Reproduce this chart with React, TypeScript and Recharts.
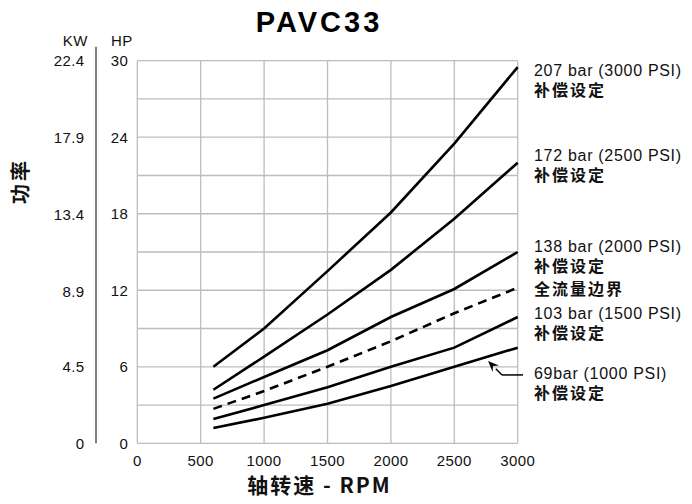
import React from 'react';
import { LineChart, Line, XAxis, YAxis, CartesianGrid, ReferenceLine } from 'recharts';

// shaft speed (RPM) and input power (HP) for each compensator setting
const rpm = [600, 1000, 1500, 2000, 2500, 3000];
const hp207 = [6.0, 9.0, 13.5, 18.1, 23.5, 29.5];
const hp172 = [4.2, 6.8, 10.1, 13.6, 17.6, 22.0];
const hp138 = [3.5, 5.2, 7.3, 9.9, 12.1, 15.0];
const hpFull = [2.7, 4.1, 6.0, 8.0, 10.2, 12.2];
const hp103 = [1.9, 3.0, 4.4, 6.0, 7.5, 9.9];
const hp69 = [1.2, 2.0, 3.1, 4.5, 6.0, 7.5];

const rpmTicks = [0, 500, 1000, 1500, 2000, 2500, 3000];
const hpTicks = [0, 3, 6, 9, 12, 15, 18, 21, 24, 27, 30];
const kwTicks = [0, 4.5, 8.9, 13.4, 17.9, 22.4];

// pointer arrow to the 69 bar curve, in data units
const arrowDiag = [{ x: 2876, y: 5.36 }, { x: 2766, y: 6.45 }];
const arrowFlat = [{ x: 3042, y: 5.36 }, { x: 2876, y: 5.36 }];

const chartData = rpm.map((r, i) => ({
  rpm: r,
  p207: hp207[i],
  p172: hp172[i],
  p138: hp138[i],
  full: hpFull[i],
  p103: hp103[i],
  p69: hp69[i],
}));

const LATIN = '"Liberation Sans", Arial, Helvetica, sans-serif';
const CJK = '"Noto Sans CJK SC", "Liberation Sans", sans-serif';

const ArrowShape = (props: any) => {
  const { x1, y1, x2, y2 } = props;
  const dx = x2 - x1;
  const dy = y2 - y1;
  const len = Math.sqrt(dx * dx + dy * dy) || 1;
  const ux = dx / len;
  const uy = dy / len;
  const bx = x2 - ux * 11;
  const by = y2 - uy * 11;
  const px = -uy * 4.5;
  const py = ux * 4.5;
  return (
    <g>
      <line x1={x1} y1={y1} x2={bx} y2={by} stroke="#000" strokeWidth={1.5} />
      <polygon
        points={`${x2},${y2} ${bx + px},${by + py} ${x2 - ux * 7},${y2 - uy * 7} ${bx - px},${by - py}`}
        fill="#000"
      />
    </g>
  );
};

const FlatShape = (props: any) => {
  const { x1, y1, x2, y2 } = props;
  return <line x1={x1} y1={y1} x2={x2} y2={y2} stroke="#000" strokeWidth={1.5} />;
};

const rightLabel = (y: number, main: string, sub?: string) => (
  <g>
    <text x={526} y={y} dominantBaseline="central" fontFamily={LATIN} fontSize={16} letterSpacing={0.7} fill="#111">
      {main}
    </text>
    {sub && (
      <text x={526} y={y + 19} dominantBaseline="central" fontFamily={CJK} fontSize={16} fontWeight="bold" letterSpacing={2} fill="#111">
        {sub}
      </text>
    )}
  </g>
);

const App: React.FC = () => {
  const tickStyle = { fontSize: 15, fill: '#111', fontFamily: LATIN, letterSpacing: 0.4 };
  return (
    <div style={{ position: 'relative', width: 676, height: 496, marginBottom: -8 }}>
      <LineChart
        width={676}
        height={496}
        data={chartData}
        margin={{ top: 52.7, right: 166.3, left: 0, bottom: 30.7 }}
      >
        <CartesianGrid yAxisId="hp" stroke="#bdbdbd" strokeWidth={1.3} />
        <XAxis
          dataKey="rpm"
          type="number"
          domain={[0, 3000]}
          ticks={rpmTicks}
          axisLine={false}
          tickLine={false}
          tickSize={0}
          tickMargin={12}
          height={30}
          tick={tickStyle}
          interval={0}
        />
        <YAxis
          yAxisId="hp"
          type="number"
          domain={[0, 30]}
          ticks={hpTicks}
          width={41.3}
          axisLine={false}
          tickLine={false}
          tickSize={0}
          tickMargin={9}
          interval={0}
          tick={tickStyle}
          tickFormatter={(v: number) => (v % 6 === 0 ? String(v) : '')}
        />
        <YAxis
          yAxisId="kw"
          type="number"
          domain={[0, 22.4]}
          allowDataOverflow
          ticks={kwTicks}
          width={88}
          axisLine={false}
          tickLine={false}
          tickSize={0}
          tickMargin={11.5}
          interval={0}
          tick={tickStyle}
        />
        <Line yAxisId="hp" type="linear" dataKey="p207" stroke="#000" strokeWidth={2.6} dot={false} isAnimationActive={false} />
        <Line yAxisId="hp" type="linear" dataKey="p172" stroke="#000" strokeWidth={2.6} dot={false} isAnimationActive={false} />
        <Line yAxisId="hp" type="linear" dataKey="p138" stroke="#000" strokeWidth={2.6} dot={false} isAnimationActive={false} />
        <Line yAxisId="hp" type="linear" dataKey="full" stroke="#000" strokeWidth={2.6} strokeDasharray="9 6" dot={false} isAnimationActive={false} />
        <Line yAxisId="hp" type="linear" dataKey="p103" stroke="#000" strokeWidth={2.6} dot={false} isAnimationActive={false} />
        <Line yAxisId="hp" type="linear" dataKey="p69" stroke="#000" strokeWidth={2.6} dot={false} isAnimationActive={false} />
        <ReferenceLine yAxisId="hp" segment={arrowDiag} ifOverflow="visible" shape={ArrowShape} />
        <ReferenceLine yAxisId="hp" segment={arrowFlat} ifOverflow="visible" shape={FlatShape} />
      </LineChart>

      {/* titles, axis headers and curve labels */}
      <svg
        width={684}
        height={496}
        style={{ position: 'absolute', left: 0, top: 0, overflow: 'visible', pointerEvents: 'none' }}
      >
        <line x1={88} y1={38.7} x2={88} y2={435.3} stroke="#808080" strokeWidth={2} />
        <text x={311} y={14} textAnchor="middle" dominantBaseline="central" fontFamily={LATIN} fontSize={29} fontWeight="bold" letterSpacing={3} fill="#000">
          PAVC33
        </text>
        <text x={80} y={32} textAnchor="end" dominantBaseline="central" fontFamily={LATIN} fontSize={15} letterSpacing={0.5} fill="#111">
          KW
        </text>
        <text x={103} y={32} dominantBaseline="central" fontFamily={LATIN} fontSize={15} letterSpacing={0.5} fill="#111">
          HP
        </text>
        <text
          x={11}
          y={173}
          textAnchor="middle"
          dominantBaseline="central"
          fontFamily={CJK}
          fontSize={20}
          fontWeight="bold"
          letterSpacing={3}
          transform="rotate(-90 11 173)"
          fill="#111"
        >
          功率
        </text>
        <text x={311.5} y={476} textAnchor="middle" dominantBaseline="central" fontFamily={CJK} fontSize={21} fontWeight="bold" letterSpacing={2} fill="#111">
          轴转速 - RPM
        </text>
        {rightLabel(62, '207 bar (3000 PSI)', '补偿设定')}
        {rightLabel(147, '172 bar (2500 PSI)', '补偿设定')}
        {rightLabel(238, '138 bar (2000 PSI)', '补偿设定')}
        <text x={526} y={280} dominantBaseline="central" fontFamily={CJK} fontSize={16} fontWeight="bold" letterSpacing={2} fill="#111">
          全流量边界
        </text>
        {rightLabel(305, '103 bar (1500 PSI)', '补偿设定')}
        {rightLabel(365, '69bar (1000 PSI)', '补偿设定')}
      </svg>
    </div>
  );
};

export default App;
